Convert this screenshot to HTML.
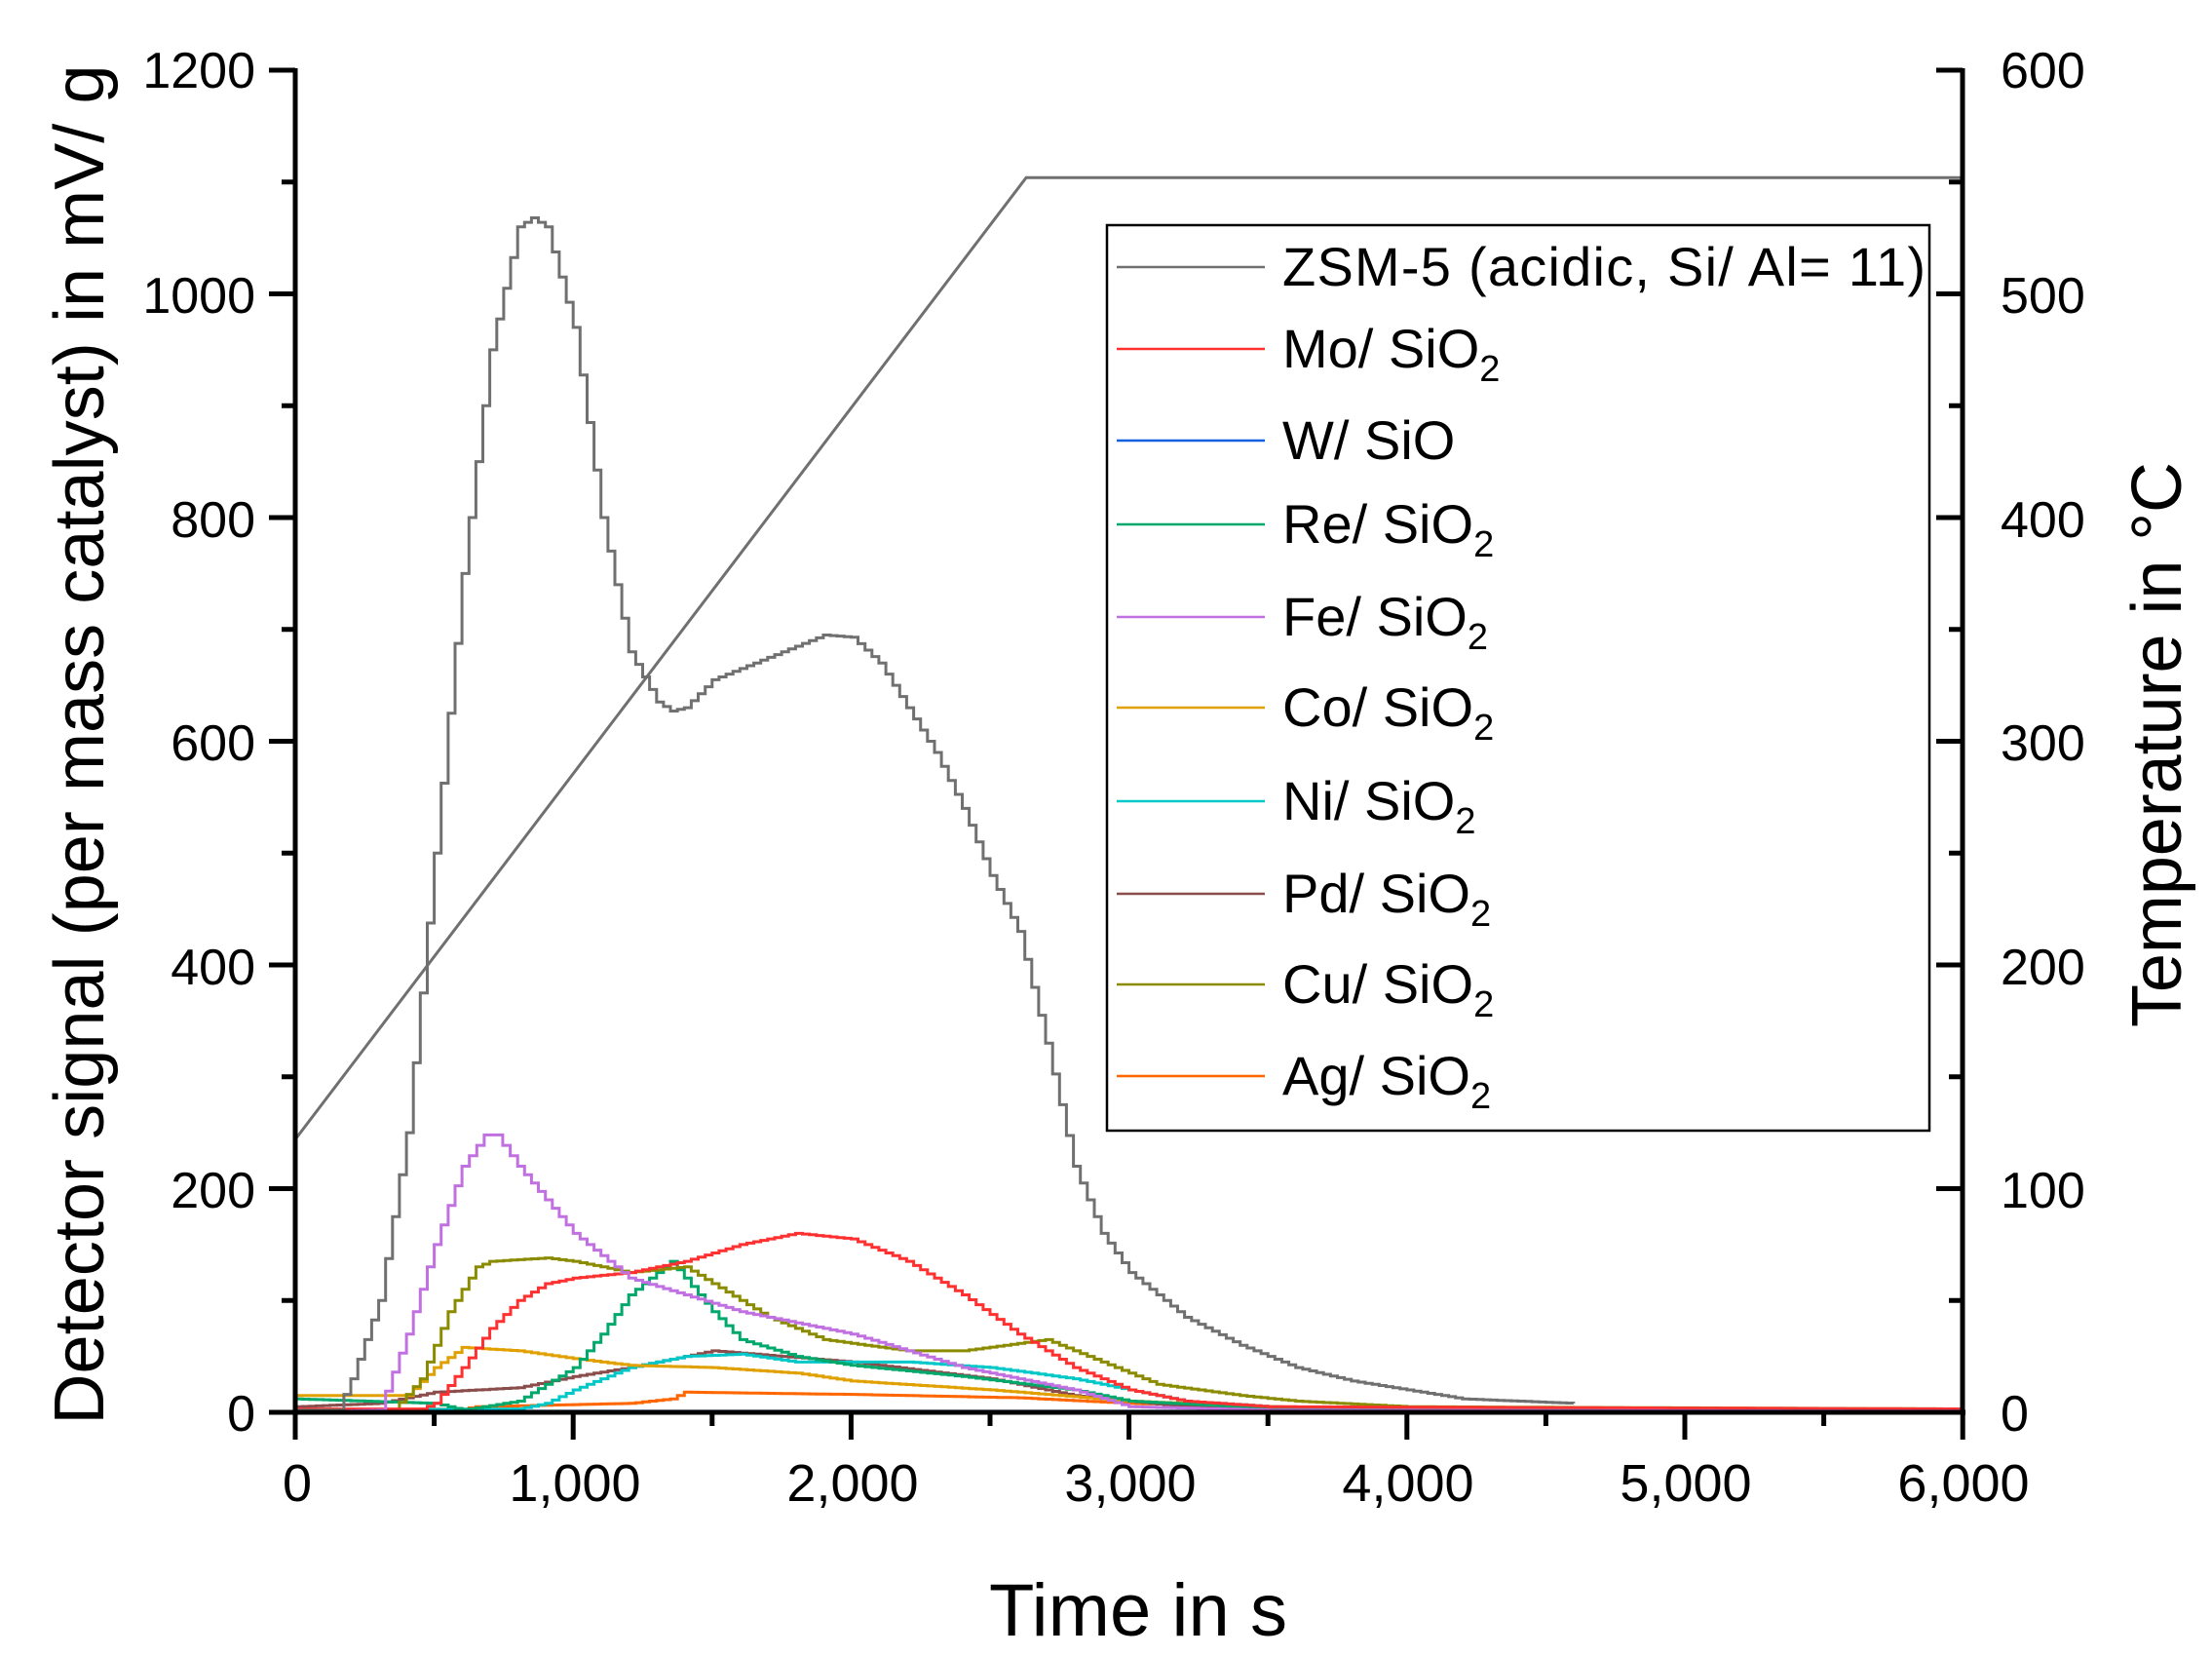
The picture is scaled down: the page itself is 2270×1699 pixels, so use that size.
<!DOCTYPE html>
<html><head><meta charset="utf-8"><style>
html,body{margin:0;padding:0;background:#fff;}
svg{display:block;}
text{font-family:"Liberation Sans",Arial,sans-serif;fill:#000;}
</style></head><body>
<svg id="s" width="2270" height="1699" viewBox="0 0 2270 1699" xmlns="http://www.w3.org/2000/svg">
<g id="curves" fill="none" stroke-width="2.5"></g>
<g stroke="#000" stroke-width="5" fill="none">
<line x1="303" y1="70" x2="303" y2="1451"/>
<line x1="2014" y1="70" x2="2014" y2="1451"/>
<line x1="300" y1="1449" x2="2017" y2="1449"/>
</g>
<g id="ticks" stroke="#000" stroke-width="5"></g>
<g font-size="52" text-anchor="end">
<text x="262" y="90">1200</text>
<text x="262" y="321">1000</text>
<text x="262" y="551">800</text>
<text x="262" y="780">600</text>
<text x="262" y="1010">400</text>
<text x="262" y="1239">200</text>
<text x="262" y="1468">0</text>
</g>
<g font-size="52" text-anchor="start">
<text x="2053" y="90">600</text>
<text x="2053" y="321">500</text>
<text x="2053" y="551">400</text>
<text x="2053" y="780">300</text>
<text x="2053" y="1010">200</text>
<text x="2053" y="1239">100</text>
<text x="2053" y="1468">0</text>
</g>
<g font-size="54" text-anchor="middle">
<text x="305" y="1540">0</text>
<text x="590" y="1540">1,000</text>
<text x="875" y="1540">2,000</text>
<text x="1160" y="1540">3,000</text>
<text x="1445" y="1540">4,000</text>
<text x="1730" y="1540">5,000</text>
<text x="2015" y="1540">6,000</text>
</g>
<text x="1168" y="1678" font-size="76" text-anchor="middle" textLength="306">Time in s</text>
<text transform="translate(106,764) rotate(-90)" font-size="72" text-anchor="middle" textLength="1395">Detector signal (per mass catalyst) in mV/ g</text>
<text transform="translate(2238,764) rotate(-90)" font-size="72" text-anchor="middle" textLength="580">Temperature in °C</text>
<rect x="1136" y="231" width="844" height="929" fill="#fff" stroke="#000" stroke-width="2.5"/>
<g id="leg" font-size="56"></g>
</svg>
<script>
const X=t=>303+t*0.2852, Y=v=>1449-v*1.1475, T=c=>1449-c*2.295;
const NS="http://www.w3.org/2000/svg";
function poly(g,pts,col,w,fy){
 const p=document.createElementNS(NS,"polyline");
 p.setAttribute("points",pts.map(a=>X(a[0]).toFixed(1)+","+(fy||Y)(a[1]).toFixed(1)).join(" "));
 p.setAttribute("stroke",col);p.setAttribute("stroke-width",w||2.5);p.setAttribute("fill","none");
 g.appendChild(p);
}
function step(pts){
 const o=[];for(let i=0;i<pts.length-1;i++){const [t0,v0]=pts[i],[t1,v1]=pts[i+1];const n=Math.max(1,Math.round((t1-t0)/25));
 for(let k=0;k<n;k++){const t=t0+(t1-t0)*k/n,v=v0+(v1-v0)*k/n,tn=t0+(t1-t0)*(k+1)/n;o.push([t,v],[tn,v]);}}
 o.push(pts[pts.length-1]);return o;}
const g=document.getElementById("curves");
const S={
ag:[[0,2],[600,3],[650,5],[1200,8],[1350,12],[1400,18],[2000,16],[2600,13],[3000,8],[3500,5],[4500,3],[6000,2]],
pd:[[0,5],[300,8],[500,18],[800,22],[1000,32],[1200,40],[1500,55],[2000,45],[2500,30],[2800,15],[3200,5],[4000,2],[6000,1]],
ni:[[0,2],[800,3],[900,8],[1000,20],[1200,40],[1400,50],[1600,52],[1800,45],[2200,45],[2500,40],[2800,30],[3000,20],[3200,10],[3500,5],[4000,2],[6000,1]],
co:[[0,15],[400,15],[500,40],[600,58],[800,55],[1000,48],[1200,42],[1500,40],[1800,35],[2000,28],[2500,20],[3000,10],[3500,5],[4000,2],[6000,1]],
re:[[0,12],[500,8],[600,2],[800,10],[900,25],[1000,40],[1100,70],[1200,105],[1300,125],[1350,135],[1400,120],[1500,90],[1600,65],[1800,50],[2000,42],[2400,32],[2800,20],[3000,10],[3400,5],[4000,2],[6000,1]],
w:[[0,1],[6000,1]],
cu:[[0,2],[350,2],[450,30],[550,90],[650,130],[700,135],[900,138],[1000,135],[1200,125],[1400,130],[1500,115],[1700,85],[1900,65],[2200,55],[2400,55],[2700,65],[2900,45],[3100,25],[3400,15],[3600,10],[4000,5],[6000,3]],
mo:[[0,3],[450,3],[500,8],[600,40],[700,75],[800,100],[900,115],[1000,120],[1200,125],[1400,135],[1600,150],[1800,160],[2000,155],[2200,135],[2400,105],[2600,70],[2800,40],[3000,20],[3200,10],[3500,5],[6000,3]],
fe:[[0,0],[300,2],[400,70],[500,150],[600,220],[680,248],[720,248],[800,220],[900,190],[1000,160],[1100,140],[1200,120],[1400,105],[1600,90],[1800,80],[2000,70],[2200,55],[2400,40],[2600,30],[2800,20],[3000,5],[3500,2],[6000,1]],
zsm:[[0,2],[150,2],[200,30],[300,100],[400,250],[500,500],[600,750],[700,950],[800,1060],[850,1068],[900,1060],[1000,970],[1100,800],[1200,680],[1300,635],[1350,627],[1400,630],[1500,655],[1600,665],[1800,685],[1900,695],[2000,693],[2100,670],[2200,630],[2300,590],[2400,540],[2500,480],[2600,430],[2700,330],[2800,220],[2900,160],[3000,125],[3200,85],[3400,60],[3600,40],[3800,28],[4000,20],[4200,12],[4600,8]]
};
const C={zsm:"#707070",mo:"#ff3030",w:"#1060e0",re:"#00a86b",fe:"#c070e0",co:"#e0a000",ni:"#00c8c8",pd:"#8b4c4c",cu:"#8b8b00",ag:"#ff6600"};
["ag","pd","ni","co","re","w","cu","mo","fe","zsm"].forEach(k=>poly(g,step(S[k]),C[k],3));
poly(g,[[0,122],[2630,552],[6000,552]],"#707070",3,T);
const tk=document.getElementById("ticks");
function L(x1,y1,x2,y2){const l=document.createElementNS(NS,"line");l.setAttribute("x1",x1);l.setAttribute("y1",y1);l.setAttribute("x2",x2);l.setAttribute("y2",y2);tk.appendChild(l);}
for(let v=0;v<=1200;v+=100){const y=Y(v);L(303,y,v%200?289:276,y);}
for(let c=0;c<=600;c+=50){const y=T(c);L(2014,y,c%100?2000:1987,y);}
for(let t=0;t<=6000;t+=500){const x=X(t);L(x,1449,x,t%1000?1463:1477);}
const lg=document.getElementById("leg");
const items=[["zsm","ZSM-5 (acidic, Si/ Al= 11)",""],["mo","Mo/ SiO","2"],["w","W/ SiO",""],["re","Re/ SiO","2"],["fe","Fe/ SiO","2"],["co","Co/ SiO","2"],["ni","Ni/ SiO","2"],["pd","Pd/ SiO","2"],["cu","Cu/ SiO","2"],["ag","Ag/ SiO","2"]];
const ys=[274,358,452,538,633,726,822,917,1010,1104];
items.forEach((it,i)=>{const y=ys[i];
 const l=document.createElementNS(NS,"line");l.setAttribute("x1",1146);l.setAttribute("x2",1298);l.setAttribute("y1",y);l.setAttribute("y2",y);l.setAttribute("stroke",C[it[0]]);l.setAttribute("stroke-width",2.5);lg.appendChild(l);
 const t=document.createElementNS(NS,"text");t.setAttribute("x",1316);t.setAttribute("y",y+19);t.textContent=it[1];
 if(i==0){t.setAttribute("textLength",660);}
 if(it[2]){const s=document.createElementNS(NS,"tspan");s.setAttribute("font-size","38");s.setAttribute("dy","14");s.textContent=it[2];t.appendChild(s);}
 lg.appendChild(t);});
</script>
</body></html>
